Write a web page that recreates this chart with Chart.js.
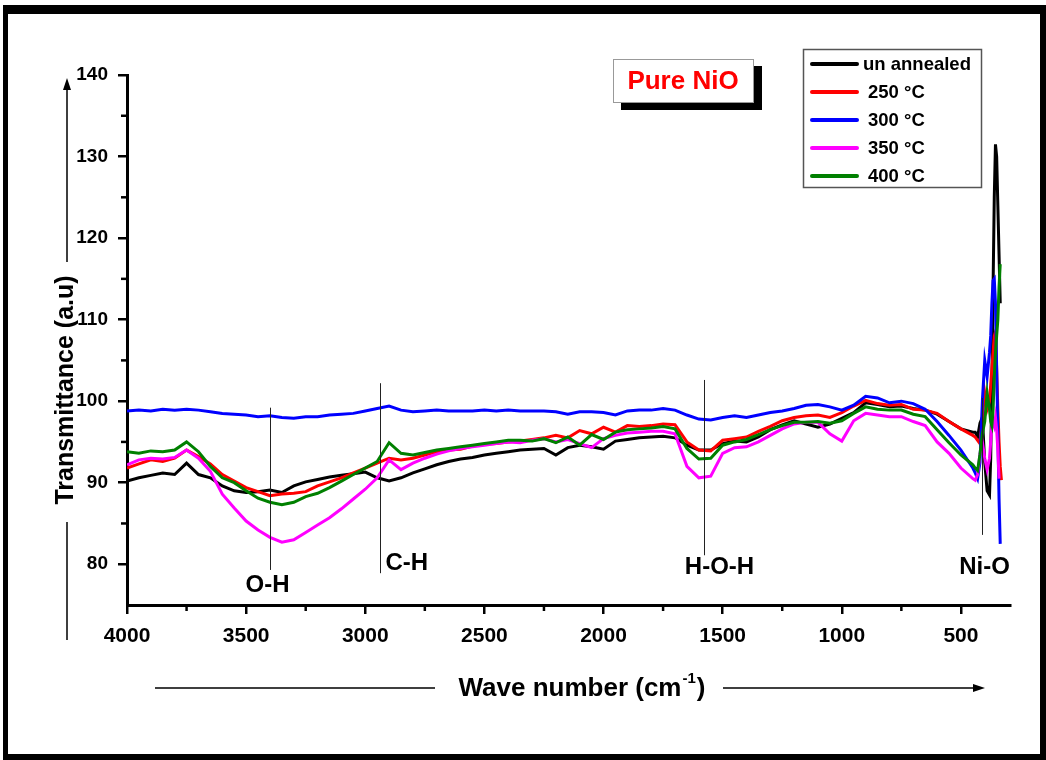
<!DOCTYPE html>
<html>
<head>
<meta charset="utf-8">
<title>Pure NiO FTIR</title>
<script src="https://cdn.jsdelivr.net/npm/chart.js@4.4.0/dist/chart.umd.min.js"></script>
<style>
  html, body { margin: 0; padding: 0; background: #fff; }
  #frame {
    position: absolute; left: 3px; top: 5px; width: 1032px; height: 740px;
    border-style: solid; border-color: #000; border-width: 9px 6px 6px 5px;
  }
  #wrap { position: absolute; left: 0; top: 0; width: 1046px; height: 760px; }
</style>
</head>
<body>
<div id="frame"></div>
<div id="wrap"><canvas id="ftir"></canvas></div>
<script>
// wave numbers (cm-1), shared by all five spectra
const waveNumbers = [
  4000, 3950, 3900, 3850, 3800, 3750, 3700, 3650, 3600, 3550,
  3500, 3450, 3400, 3350, 3300, 3250, 3200, 3150, 3100, 3050,
  3000, 2950, 2900, 2850, 2800, 2750, 2700, 2650, 2600, 2550,
  2500, 2450, 2400, 2350, 2300, 2250, 2200, 2150, 2100, 2050,
  2000, 1950, 1900, 1850, 1800, 1750, 1700, 1650, 1600, 1550,
  1500, 1450, 1400, 1350, 1300, 1250, 1200, 1150, 1100, 1050,
  1000, 950, 900, 850, 800, 750, 700, 650, 600, 550,
  500, 450,
  440, 430, 420, 410, 400, 390, 380, 375, 370, 365, 360, 355, 350, 345, 340, 335, 330
];

const unannealed = [
  90.2, 90.6, 90.9, 91.2, 91.0, 92.4, 91.0, 90.6, 89.6, 89.0,
  88.8, 88.9, 89.1, 88.8, 89.6, 90.1, 90.4, 90.7, 90.9, 91.1,
  91.3, 90.6, 90.2, 90.6, 91.2, 91.7, 92.2, 92.6, 92.9, 93.1,
  93.4, 93.6, 93.8, 94.0, 94.1, 94.2, 93.4, 94.3, 94.6, 94.4,
  94.1, 95.1, 95.3, 95.5, 95.6, 95.7, 95.5, 94.6, 94.0, 94.0,
  94.8, 95.1, 95.0, 95.6, 96.5, 97.1, 97.6, 97.2, 96.8, 97.2,
  97.9, 98.6, 99.8, 99.6, 99.3, 99.4, 99.1, 98.9, 98.4, 97.5,
  96.6, 96.2,
  96.2, 95.6, 97.3, 98.0, 92.5, 89.0, 88.5, 93, 102, 114, 125, 131.5, 130, 124, 118, 112, null
];

const t250 = [
  91.8, 92.3, 92.8, 92.6, 93.0, 94.0, 93.2, 92.3, 91.0, 90.2,
  89.4, 88.9, 88.4, 88.6, 88.7, 88.9, 89.6, 90.1, 90.6, 91.2,
  91.8, 92.4, 93.0, 92.8, 93.0, 93.4, 93.8, 94.0, 94.1, 94.5,
  94.7, 94.8, 95.0, 95.1, 95.3, 95.5, 95.8, 95.5, 96.4, 96.0,
  96.8, 96.2, 97.0, 96.9, 97.0, 97.2, 97.1, 95.0, 94.0, 93.9,
  95.2, 95.4, 95.6, 96.3, 96.9, 97.6, 98.0, 98.2, 98.3, 98.0,
  98.6, 99.4, 100.1, 99.7, 99.5, 99.6, 99.0, 98.9, 98.5, 97.5,
  96.6, 95.8,
  95.6, 95.2, 94.8, 98, 101, 99, 100, 102, 104, 106, 108, 108.5, 104, 99, 95, 92, 90.3
];

const t300 = [
  98.8, 98.9, 98.8, 99.0, 98.9, 99.0, 98.9, 98.7, 98.5, 98.4,
  98.3, 98.1, 98.2, 98.0, 97.9, 98.1, 98.1, 98.3, 98.4, 98.5,
  98.8, 99.1, 99.4, 98.9, 98.7, 98.8, 98.9, 98.8, 98.8, 98.8,
  98.9, 98.8, 98.9, 98.8, 98.8, 98.8, 98.7, 98.4, 98.7, 98.7,
  98.6, 98.3, 98.8, 98.9, 98.9, 99.1, 98.9, 98.3, 97.8, 97.7,
  98.0, 98.2, 98.0, 98.3, 98.6, 98.8, 99.1, 99.5, 99.6, 99.3,
  98.9, 99.5, 100.6, 100.4, 99.8, 100.0, 99.7, 99.0, 97.5, 95.8,
  94.0, 91.8,
  91.2, 90.5, 92.5, 100, 105, 103, 106, 108, 112, 114.8, 115, 112, 104, 96, 88, 82.5, null
];

const t350 = [
  92.2, 92.8, 93.0, 92.9, 93.1, 94.0, 93.0, 91.4, 88.6, 86.9,
  85.3, 84.2, 83.3, 82.7, 83.0, 83.9, 84.8, 85.7, 86.8, 88.0,
  89.2, 90.6, 92.8, 91.6, 92.4, 93.0, 93.5, 93.9, 94.2, 94.4,
  94.6, 94.8, 95.0, 94.9, 95.2, 95.4, 95.0, 95.3, 94.8, 94.3,
  95.4, 95.8, 96.1, 96.2, 96.3, 96.3, 96.0, 92.0, 90.6, 90.8,
  93.6, 94.3, 94.4, 95.0, 95.8, 96.6, 97.2, 97.4, 97.4, 96.0,
  95.1, 97.6, 98.5, 98.3, 98.1, 98.1, 97.5, 97.0, 95.0, 93.6,
  91.8, 90.5,
  90.3, 91, 93.5, 95, 93, 91.6, 93, 95, 97, 97.5, 97, 98, 96.5, 94, 90.5, null, null
];

const t400 = [
  93.8, 93.6, 93.9, 93.8, 94.0, 95.0, 93.8, 92.0, 90.6, 90.0,
  89.0, 88.1, 87.6, 87.3, 87.6, 88.3, 88.7, 89.4, 90.2, 91.0,
  91.8, 92.6, 94.9, 93.6, 93.4, 93.7, 94.0, 94.2, 94.4, 94.6,
  94.8, 95.0, 95.2, 95.2, 95.1, 95.4, 94.9, 95.6, 94.6, 95.9,
  95.3, 96.2, 96.5, 96.6, 96.7, 96.9, 96.6, 94.2, 92.9, 93.0,
  94.6, 95.0, 95.3, 95.9, 96.5, 97.0, 97.4, 97.4, 97.5, 97.3,
  97.6, 98.5, 99.3, 99.0, 98.9, 98.9, 98.4, 98.1, 96.5, 94.9,
  93.4, 92.2,
  91.8, 91.5, 93.5, 96, 97.5, 101, 99, 97.5, 97, 99, 103, 106, 108, 110, 114, 116.8, null
];

const seriesNames = ['un annealed', '250 \u00B0C', '300 \u00B0C', '350 \u00B0C', '400 \u00B0C'];
const seriesColors = ['#000000', '#ff0000', '#0000ff', '#ff00ff', '#008000'];

// axis ticks
const xMajor = [4000, 3500, 3000, 2500, 2000, 1500, 1000, 500];
const xMinor = [3750, 3250, 2750, 2250, 1750, 1250, 750];
const yMajor = [80, 90, 100, 110, 120, 130, 140];
const yMinor = [85, 95, 105, 115, 125, 135];

// band assignments
const bandWave = [3400, 2940, 1580, 410];
const bandNames = ['O-H', 'C-H', 'H-O-H', 'Ni-O'];

const FONT = "'Liberation Sans', Arial, sans-serif";

// marker line extents (in transmittance units) and label placement for each band
const bandStyle = [
  { top: 99.2, bottom: 79.3, dx: -3, ty: 585, align: 'center' },
  { top: 102.2, bottom: 78.9, dx: 5, ty: 563, align: 'left' },
  { top: 102.6, bottom: 81.1, dx: 15, ty: 567, align: 'center' },
  { top: 100.4, bottom: 83.6, dx: 2, ty: 567, align: 'center' }
];

const toPoints = (values) => waveNumbers.map((w, i) => ({ x: w, y: values[i] }));

const allValues = [unannealed, t250, t300, t350, t400];
// lower order is drawn on top
const drawOrder = [5, 4, 3, 2, 1];

const datasets = allValues.map((vals, i) => ({
  label: seriesNames[i],
  data: toPoints(vals),
  borderColor: seriesColors[i],
  borderWidth: 3,
  pointRadius: 0,
  tension: 0,
  spanGaps: false,
  order: drawOrder[i]
}));

function arrowHead(ctx, x, y, dir) {
  ctx.beginPath();
  if (dir === 'up') {
    ctx.moveTo(x, y); ctx.lineTo(x - 4, y + 12); ctx.lineTo(x + 4, y + 12);
  } else {
    ctx.moveTo(x, y); ctx.lineTo(x - 12, y - 4); ctx.lineTo(x - 12, y + 4);
  }
  ctx.closePath();
  ctx.fill();
}

const decorations = {
  id: 'decorations',
  afterDraw(chart) {
    const { ctx } = chart;
    const x = chart.scales.x, y = chart.scales.y;
    ctx.save();

    // minor ticks
    ctx.strokeStyle = '#000';
    ctx.lineWidth = 2.5;
    xMinor.forEach(v => {
      const px = x.getPixelForValue(v);
      ctx.beginPath(); ctx.moveTo(px, y.bottom); ctx.lineTo(px, y.bottom + 6); ctx.stroke();
    });
    yMinor.forEach(v => {
      const py = y.getPixelForValue(v);
      ctx.beginPath(); ctx.moveTo(x.left, py); ctx.lineTo(x.left - 6, py); ctx.stroke();
    });

    // band marker lines and labels
    ctx.fillStyle = '#000';
    ctx.font = 'bold 24px ' + FONT;
    ctx.textBaseline = 'middle';
    bandWave.forEach((w, i) => {
      const s = bandStyle[i];
      const px = Math.round(x.getPixelForValue(w)) + 0.5;
      ctx.strokeStyle = '#222';
      ctx.lineWidth = 1;
      ctx.beginPath();
      ctx.moveTo(px, y.getPixelForValue(s.top));
      ctx.lineTo(px, y.getPixelForValue(s.bottom));
      ctx.stroke();
      ctx.textAlign = s.align;
      ctx.fillText(bandNames[i], px + s.dx, s.ty);
    });

    // y axis title with arrow
    ctx.strokeStyle = '#000';
    ctx.lineWidth = 1.5;
    ctx.beginPath();
    ctx.moveTo(67, 640); ctx.lineTo(67, 522);
    ctx.moveTo(67, 262); ctx.lineTo(67, 88);
    ctx.stroke();
    arrowHead(ctx, 67, 78, 'up');
    ctx.save();
    ctx.translate(66, 390);
    ctx.rotate(-Math.PI / 2);
    ctx.textAlign = 'center';
    ctx.font = 'bold 25px ' + FONT;
    ctx.fillText('Transmittance (a.u)', 0, 0);
    ctx.restore();

    // x axis title with arrow
    const main = 'Wave number (cm';
    ctx.font = 'bold 26px ' + FONT;
    const wMain = ctx.measureText(main).width;
    ctx.font = 'bold 15px ' + FONT;
    const wSup = ctx.measureText('-1').width;
    ctx.font = 'bold 26px ' + FONT;
    const wClose = ctx.measureText(')').width;
    const tx = 581 - (wMain + wSup + wClose) / 2;
    const ty = 689;
    ctx.textAlign = 'left';
    ctx.fillText(main, tx, ty);
    ctx.font = 'bold 15px ' + FONT;
    ctx.fillText('-1', tx + wMain + 1, ty - 10);
    ctx.font = 'bold 26px ' + FONT;
    ctx.fillText(')', tx + wMain + wSup + 2, ty);
    ctx.beginPath();
    ctx.moveTo(155, 688); ctx.lineTo(435, 688);
    ctx.moveTo(723, 688); ctx.lineTo(974, 688);
    ctx.stroke();
    arrowHead(ctx, 985, 688, 'right');

    // sample tag
    ctx.fillStyle = '#000';
    ctx.fillRect(621, 66, 141, 44);
    ctx.fillStyle = '#fff';
    ctx.fillRect(613, 59, 141, 44);
    ctx.strokeStyle = '#999';
    ctx.lineWidth = 1;
    ctx.strokeRect(613.5, 59.5, 140, 43);
    ctx.fillStyle = '#ff0000';
    ctx.textAlign = 'center';
    ctx.font = 'bold 26px ' + FONT;
    ctx.fillText('Pure NiO', 683, 82);

    // legend
    ctx.fillStyle = '#fff';
    ctx.fillRect(803, 49, 179, 139);
    ctx.strokeStyle = '#555';
    ctx.lineWidth = 1.5;
    ctx.strokeRect(803.5, 49.5, 178, 138);
    ctx.font = 'bold 18.5px ' + FONT;
    ctx.textAlign = 'left';
    chart.data.datasets.forEach((ds, i) => {
      const ry = 64 + i * 28;
      ctx.strokeStyle = ds.borderColor;
      ctx.lineWidth = 4;
      ctx.lineCap = 'round';
      ctx.beginPath(); ctx.moveTo(812, ry); ctx.lineTo(857, ry); ctx.stroke();
      ctx.fillStyle = '#000';
      ctx.fillText(ds.label, i === 0 ? 863 : 868, ry + 1);
    });

    ctx.restore();
  }
};

new Chart(document.getElementById('ftir'), {
  type: 'line',
  data: { datasets },
  options: {
    responsive: true,
    maintainAspectRatio: false,
    animation: false,
    layout: { padding: { top: 75, right: 36, bottom: 0, left: 0 } },
    plugins: { legend: { display: false }, tooltip: { enabled: false } },
    scales: {
      x: {
        type: 'linear',
        reverse: true,
        min: 294,
        max: 4000,
        afterBuildTicks: (s) => { s.ticks = xMajor.map(v => ({ value: v })); },
        afterFit: (s) => { s.height = 155; },
        grid: { drawOnChartArea: false, color: '#000', lineWidth: 2.5, tickLength: 9 },
        border: { color: '#000', width: 3 },
        ticks: {
          color: '#000', padding: 10, maxRotation: 0, autoSkip: false,
          font: { family: FONT, size: 21, weight: 'bold' },
          callback: (v) => String(v)
        }
      },
      y: {
        min: 75,
        max: 140,
        afterBuildTicks: (s) => { s.ticks = yMajor.map(v => ({ value: v })); },
        afterFit: (s) => { s.width = 127; },
        grid: { drawOnChartArea: false, color: '#000', lineWidth: 2.5, tickLength: 9 },
        border: { color: '#000', width: 3 },
        ticks: {
          color: '#000', padding: 10,
          font: { family: FONT, size: 19, weight: 'bold' },
          callback: (v) => String(v)
        }
      }
    }
  },
  plugins: [decorations]
});
</script>
</body>
</html>
